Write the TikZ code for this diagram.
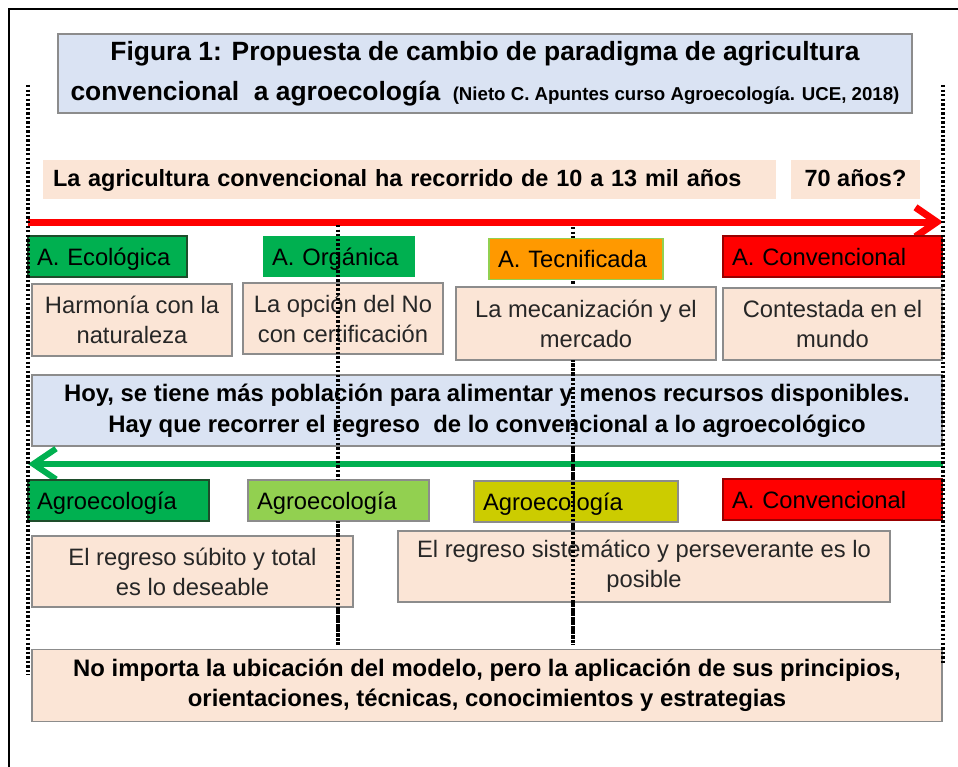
\documentclass[tikz,border=0pt]{standalone}
\usepackage{fontspec}
\setmainfont{Liberation Sans}
\usetikzlibrary{arrows.meta}
\definecolor{peach}{HTML}{FBE5D6}
\definecolor{paleblue}{HTML}{DAE3F3}
\definecolor{dgreen}{HTML}{00B050}
\definecolor{lgreen}{HTML}{92D050}
\definecolor{olivey}{HTML}{CCCC00}
\definecolor{orng}{HTML}{FF9900}
\definecolor{txt}{HTML}{262626}
\definecolor{edgegray}{HTML}{8C8C8C}
\definecolor{darkedge}{HTML}{1E4D2B}
\begin{document}
\begin{tikzpicture}[x=0.75pt,y=-0.75pt,
  every node/.style={inner sep=0pt, outer sep=0pt},
  box/.style={draw=edgegray, line width=0.9pt, fill=peach, align=center, text=txt,
    font=\fontsize{17.8}{22.5}\selectfont},
  boldbox/.style={draw=edgegray, line width=0.9pt, align=center, text=black,
    font=\bfseries\fontsize{17.9}{23.2}\selectfont},
  lab/.style={anchor=west, align=left, inner xsep=6.75pt, minimum height=30.75pt,
    text height=16.5pt, text depth=3.5pt,
    text=black, line width=0.8pt, font=\fontsize{17.8}{21}\selectfont},
  dotline/.style={line width=2.6pt, dash pattern=on 1.8pt off 1.6pt, black},
  frameline/.style={line width=1.5pt, black}]
\useasboundingbox (0,0) rectangle (958,767);
% outer frame
\coordinate (f1) at (8.5,767);
\coordinate (f2) at (8.5,9);
\coordinate (f3) at (958,9);
\draw[frameline] (f1) -- (f2) -- (f3);
% vertical dotted guides (coordinates)
\coordinate (Lt) at (28,85);   \coordinate (Lb) at (28,675);
\coordinate (Rt) at (943,85);  \coordinate (Rb) at (943,665);
\coordinate (M1t) at (338,225); \coordinate (M1a) at (338,480);
\coordinate (M1c) at (338,521); \coordinate (M1b) at (338,645);
\coordinate (M2t) at (573,227); \coordinate (M2m) at (573,360);
\coordinate (M2b) at (573,645);
% lines underneath
\draw[dotline] (M1t) -- (M1b);
\draw[dotline] (M2t) -- (M2b);
% title
\node[boldbox, fill=paleblue, minimum width=640.5pt, minimum height=59.25pt,
  font=\bfseries\fontsize{19.8}{30}\selectfont] (title) at (485,73.5)
  {Figura 1: Propuesta de cambio de paradigma de agricultura\\
   convencional\ \ a agroecología {\fontsize{14}{16}\selectfont\ (Nieto C. Apuntes curso Agroecología. UCE, 2018)}};
% header row
\node[fill=peach, anchor=west, align=left, text width=534.75pt, inner xsep=7.5pt,
  minimum height=29.25pt, text height=14pt, text depth=3.5pt, text=black,
  font=\bfseries\fontsize{17.6}{21}\selectfont] (hdr) at (43,179.5)
  {La agricultura convencional ha recorrido de 10 a 13 mil años};
\node[fill=peach, minimum width=96.75pt, minimum height=29.25pt, text height=14pt, text depth=3.5pt,
  text=black, font=\bfseries\fontsize{17.6}{21}\selectfont] (h70) at (855.5,179.5) {70 años?};
% red arrow
\coordinate (ra) at (28,222);
\coordinate (rb) at (943,222);
\draw[red, line width=5.25pt, -{Straight Barb[length=16pt, width=22pt]}] (ra) -- (rb);
% labels row 1
\node[lab, fill=dgreen, draw=darkedge, text width=105.75pt] (ecol) at (28,256.5) {A. Ecológica};
\node[lab, fill=dgreen, text width=100.5pt] (org) at (263,256.5) {A. Orgánica};
\node[lab, fill=orng, draw=lgreen, text width=117pt] (tec) at (489,259) {A. Tecnificada};
\node[lab, fill=red, draw=red!60!black, text width=150.75pt] (conv1) at (723,256.5) {A. Convencional};
% boxes row 1
\node[box, minimum width=150pt, minimum height=54pt] (b1) at (132,320) {Harmonía con la\\naturaleza};
\node[box, minimum width=150pt, minimum height=53.25pt] (b2) at (343,318.5) {La opción del No\\con certificación};
\node[box, minimum width=195pt, minimum height=54.75pt] (b3) at (586,323.5) {La mecanización y el\\mercado};
\node[box, minimum width=164.25pt, minimum height=54pt] (b4) at (832.5,324) {Contestada en el\\mundo};
% middle blue box
\node[boldbox, fill=paleblue, minimum width=682.5pt, minimum height=53.25pt] (mid) at (487,410.5)
  {Hoy, se tiene más población para alimentar y menos recursos disponibles.\\
   Hay que recorrer el regreso\ \ de lo convencional a lo agroecológico};
% green arrow
\coordinate (ga) at (943,464);
\coordinate (gb) at (28,464);
\draw[dgreen, line width=4.5pt, -{Straight Barb[length=17pt, width=23pt]}] (ga) -- (gb);
% labels row 2
\node[lab, fill=dgreen, draw=darkedge, text width=122.25pt] (ag1) at (28,500.5) {Agroecología};
\node[lab, fill=lgreen, draw=edgegray, text width=122.25pt] (ag2) at (248,500.5) {Agroecología};
% M1 over everything except ag2
\draw[dotline] (M1t) -- (M1a);
\node[lab, fill=olivey, draw=edgegray, text width=139.5pt] (ag3) at (474,501.5) {Agroecología};
\node[lab, fill=red, draw=red!60!black, text width=150.75pt] (conv2) at (723,499.5) {A. Convencional};
% boxes row 2
\node[box, minimum width=240.75pt, minimum height=53.25pt] (r1) at (192.5,571.5)
  {El regreso súbito y total\\es lo deseable};
\node[box, minimum width=369pt, minimum height=53.25pt] (r2) at (644,566.5)
  {El regreso sistemático y perseverante es lo\\posible};
% bottom box
\node[boldbox, fill=peach, minimum width=682.5pt, minimum height=54pt,
  font=\bfseries\fontsize{17.9}{22.5}\selectfont] (bot) at (487,685.5)
  {No importa la ubicación del modelo, pero la aplicación de sus principios,\\
   orientaciones, técnicas, conocimientos y estrategias};
% dotted lines on top
\draw[dotline] (Lt) -- (Lb);
\draw[dotline] (Rt) -- (Rb);
\draw[dotline] (M1c) -- (M1b);
\draw[dotline] (M2m) -- (M2b);
\end{tikzpicture}
\end{document}
